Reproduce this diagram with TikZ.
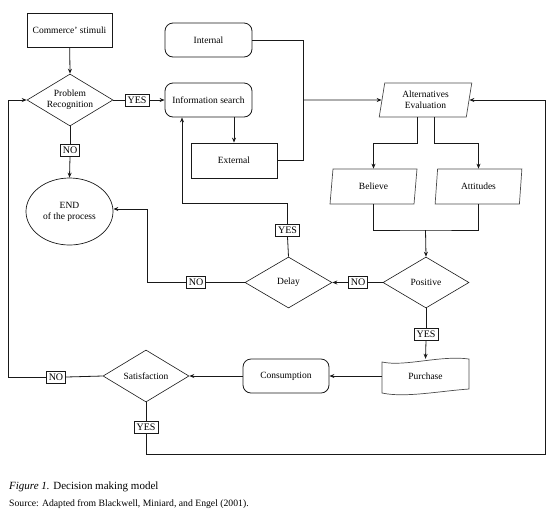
\documentclass[tikz,border=0pt]{standalone}
\usepackage{fontspec}
\setmainfont{Liberation Serif}
\usetikzlibrary{shapes.geometric,arrows.meta}
\begin{document}
\begin{tikzpicture}[x=1pt,y=-1pt,
  every node/.style={font=\fontsize{9.5}{11}\selectfont, inner sep=0pt},
  line/.style={draw=black!90, line width=0.8pt},
  arr/.style={line, -{Stealth[length=5pt,width=4pt]}},
  rect/.style={draw=black!90, line width=0.8pt, rectangle, minimum width=85pt, minimum height=34pt},
  rbox/.style={rect, rounded corners=8pt},
  dia/.style={draw=black!90, line width=0.6pt, diamond, minimum width=86pt, minimum height=52pt},
  para/.style={draw=black!70, line width=0.7pt, trapezium, trapezium stretches=true,
    trapezium left angle=81, trapezium right angle=99, minimum width=87pt, minimum height=35pt},
  tag/.style={draw=black!90, line width=0.8pt, fill=white, rectangle, inner xsep=2.5pt, minimum height=12pt, font=\fontsize{10}{11}\selectfont}
]
\useasboundingbox (0,0) rectangle (553,515);

% nodes
\node[rect] (cs) at (69.5,30) {Commerce' stimuli};
\node[dia, label={[align=center, font=\fontsize{9.5}{11}\selectfont]center:Problem\\Recognition}] (pr) at (70,100) {};
\node[tag] (yes1) at (137,100) {YES};
\node[rbox, minimum width=87pt] (is) at (208.5,100) {Information search};
\node[rbox, minimum width=87pt] (int) at (208.5,40) {Internal};
\node[rect, minimum width=86pt, minimum height=35pt] (ext) at (234,160.5) {External};
\node[para, minimum width=93pt, minimum height=34pt, trapezium left angle=80, trapezium right angle=100, align=center] (alt) at (425.5,100) {Alternatives\\Evaluation};
\node[para] (bel) at (373.5,186.5) {Believe};
\node[para] (att) at (478.5,186.5) {Attitudes};
\node[draw=black!90, line width=0.7pt, ellipse, minimum width=87pt, minimum height=67pt, align=center] (end) at (69.5,211.5) {END\\of the process};
\node[tag] (no1) at (70,150.5) {NO};
\node[dia, minimum width=87pt, minimum height=51pt, label={center:Delay}] (delay) at (288.5,282.5) {};
\node[tag] (yes2) at (287.5,230.5) {YES};
\node[tag] (no2) at (196,282.5) {NO};
\node[dia, minimum height=51pt, label={center:Positive}] (pos) at (426,282.5) {};
\node[tag] (no3) at (358,282.5) {NO};
\node[tag] (yes3) at (426,334) {YES};
\node[minimum width=87pt, minimum height=34pt] (pur) at (425.5,376) {Purchase};
\draw[draw=black!70, line width=0.7pt] (382,362) .. controls (405,367) and (440,355) .. (469,359)
  -- (469,389) .. controls (440,391) and (405,398) .. (382,393) -- cycle;
\node[rbox, minimum width=86pt] (cons) at (286,376) {Consumption};
\node[dia, label={center:Satisfaction}] (sat) at (146,376) {};
\node[tag] (no4) at (56,377) {NO};
\node[tag] (yes4) at (146,427.5) {YES};

% helper coordinates
\coordinate (j1) at (303,100);
\coordinate (m1) at (425.5,230);
\coordinate (c1) at (147,209);
\coordinate (c2) at (182,203);
\coordinate (c3) at (8,100);
\coordinate (c4) at (545,454);

% connectors
\draw[arr] (cs) -- (pr.north);
\draw[line] (pr.east) -- (yes1.west);
\draw[arr] (yes1.east) -- (is.west);
\draw[line] (pr.south) -- (no1.north);
\draw[arr] (no1.south) -- (end.north);
\draw[arr] (is.south -| ext.north) -- (ext.north);
\draw[line] (int.east) -| (ext.east -| j1) -- (ext.east);
\draw[arr] (j1) -- (alt.west);
\draw[arr] ([xshift=-8.5pt]alt.south) -- ++(0,26) -| (bel.north);
\draw[arr] ([xshift=8.5pt]alt.south) -- ++(0,26) -| (att.north);
\draw[line] (bel.south) |- (m1) -| (att.south);
\draw[arr] (m1) -- (pos.north);
\draw[line] (pos.west) -- (no3.east);
\draw[arr] (no3.west) -- (delay.east);
\draw[line] (delay.west) -- (no2.east);
\draw[arr] (no2.west) -| (c1) -- (c1 -| end.east);
\draw[line] (delay.north) -- (yes2.south);
\draw[arr] (yes2.north) |- (c2) -- (c2 |- is.south);
\draw[line] (pos.south) -- (yes3.north);
\draw[arr] (yes3.south) -- (pur.north);
\draw[arr] (pur.west) -- (cons.east);
\draw[arr] (cons.west) -- (sat.east);
\draw[line] (sat.west) -- (no4.east);
\draw[arr] (no4.west) -| (c3) -- (pr.west);
\draw[line] (sat.south) -- (yes4.north);
\draw[arr] (yes4.south) |- (c4) |- (alt.east);

% caption
\node[anchor=west, font=\fontsize{11}{13}\selectfont] (cap) at (9,487) {\textit{Figure 1.} Decision making model};
\node[anchor=west, font=\fontsize{9.7}{12}\selectfont] (src) at (9,504) {Source: Adapted from Blackwell, Miniard, and Engel (2001).};
\end{tikzpicture}
\end{document}
